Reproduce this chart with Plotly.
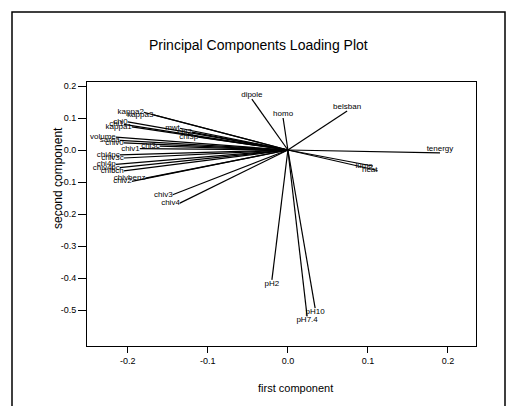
import plotly.graph_objects as go

# Loadings (first component, second component)
names = ["dipole", "homo", "belsban", "tenergy", "lumo", "heat",
         "pH2", "pH7.4", "pH10",
         "kappa2", "kappa3", "chi0", "chi1", "kappa1", "mwt", "chi2", "chi3p",
         "volume", "sarea", "chiv0", "chi3c", "chiv1", "chi4pc", "chiv3c",
         "chi4p", "chiv4pc", "chi5ch", "chivbenz", "chiv2", "chiv3", "chiv4"]
pc1 = [-0.045, -0.006, 0.074, 0.190, 0.106, 0.112,
       -0.020, 0.024, 0.034,
       -0.180, -0.168, -0.200, -0.205, -0.195, -0.135, -0.120, -0.112,
       -0.215, -0.210, -0.205, -0.160, -0.185, -0.210, -0.205,
       -0.215, -0.210, -0.205, -0.178, -0.195, -0.144, -0.135]
pc2 = [0.159, 0.100, 0.122, -0.009, -0.050, -0.064,
       -0.406, -0.520, -0.494,
       0.118, 0.110, 0.088, 0.080, 0.072, 0.068, 0.056, 0.040,
       0.040, 0.030, 0.022, 0.012, 0.004, -0.015, -0.025,
       -0.045, -0.055, -0.065, -0.088, -0.098, -0.140, -0.166]

x_ticks = [-0.2, -0.1, 0.0, 0.1, 0.2]
y_ticks = [0.2, 0.1, 0.0, -0.1, -0.2, -0.3, -0.4, -0.5]
title = "Principal Components Loading Plot"
x_title = "first component"
y_title = "second component"

# label placement style
def tpos(n, x, y):
    if n in ("lumo", "heat"):
        return "middle left"
    if x < -0.1:
        return "middle left"
    if y < -0.3:
        return "bottom center"
    return "top center"

lx, ly = [], []
for x, y in zip(pc1, pc2):
    lx += [0, x, None]
    ly += [0, y, None]

font = "Liberation Sans, Arial, sans-serif"

fig = go.Figure()
fig.add_trace(go.Scatter(x=lx, y=ly, mode="lines",
                         line=dict(color="black", width=1.2),
                         hoverinfo="skip", showlegend=False))
fig.add_trace(go.Scatter(x=pc1, y=pc2, mode="text", text=names,
                         textposition=[tpos(n, x, y) for n, x, y in zip(names, pc1, pc2)],
                         textfont=dict(family=font, size=8, color="black"),
                         showlegend=False))

W, H = 513, 406
L, R, T, B = 87, 37, 82, 60
pw, ph = W - L - R, H - T - B

def px2paper(px, py):
    return (px - L) / pw, (H - B - py) / ph

fig.update_layout(
    width=W, height=H,
    margin=dict(l=L, r=R, t=T, b=B),
    paper_bgcolor="white", plot_bgcolor="white",
    showlegend=False,
)
fig.update_xaxes(range=[-0.251, 0.235], tickvals=x_ticks,
                 ticktext=[f"{v:.1f}" for v in x_ticks],
                 ticks="outside", ticklen=6, tickwidth=1, tickcolor="black",
                 showgrid=False, zeroline=False, showline=True, linecolor="black",
                 linewidth=1, mirror=True,
                 tickfont=dict(family=font, size=9, color="black"))
fig.update_yaxes(range=[-0.6125, 0.2125], tickvals=y_ticks,
                 ticktext=[f"{v:.1f}" for v in y_ticks],
                 ticks="outside", ticklen=8, tickwidth=1, tickcolor="black",
                 showgrid=False, zeroline=False, showline=True, linecolor="black",
                 linewidth=1, mirror=True,
                 tickfont=dict(family=font, size=9, color="black"))

tx, ty = px2paper(258, 45)
xx, xy = px2paper(295, 388)
yx, yy = px2paper(58, 178)
fig.add_annotation(text=title, x=tx, y=ty, xref="paper", yref="paper",
                   xanchor="center", yanchor="middle",
                   showarrow=False, font=dict(family=font, size=14, color="black"))
fig.add_annotation(text=x_title, x=xx, y=xy, xref="paper", yref="paper",
                   xanchor="center", yanchor="middle",
                   showarrow=False, font=dict(family=font, size=11, color="black"))
fig.add_annotation(text=y_title, x=yx, y=yy, xref="paper", yref="paper",
                   xanchor="center", yanchor="middle",
                   showarrow=False, textangle=-90,
                   font=dict(family=font, size=12, color="black"))

# outer frame
x0, y1 = px2paper(12, 12)
x1, y0 = px2paper(505, 412)
fig.add_shape(type="rect", xref="paper", yref="paper", x0=x0, x1=x1, y0=y0, y1=y1,
              line=dict(color="black", width=1.5), fillcolor="rgba(0,0,0,0)")

fig.write_html("out.html", config={"displayModeBar": False},
               post_script="document.body.style.margin='0';document.body.style.overflow='hidden';")
